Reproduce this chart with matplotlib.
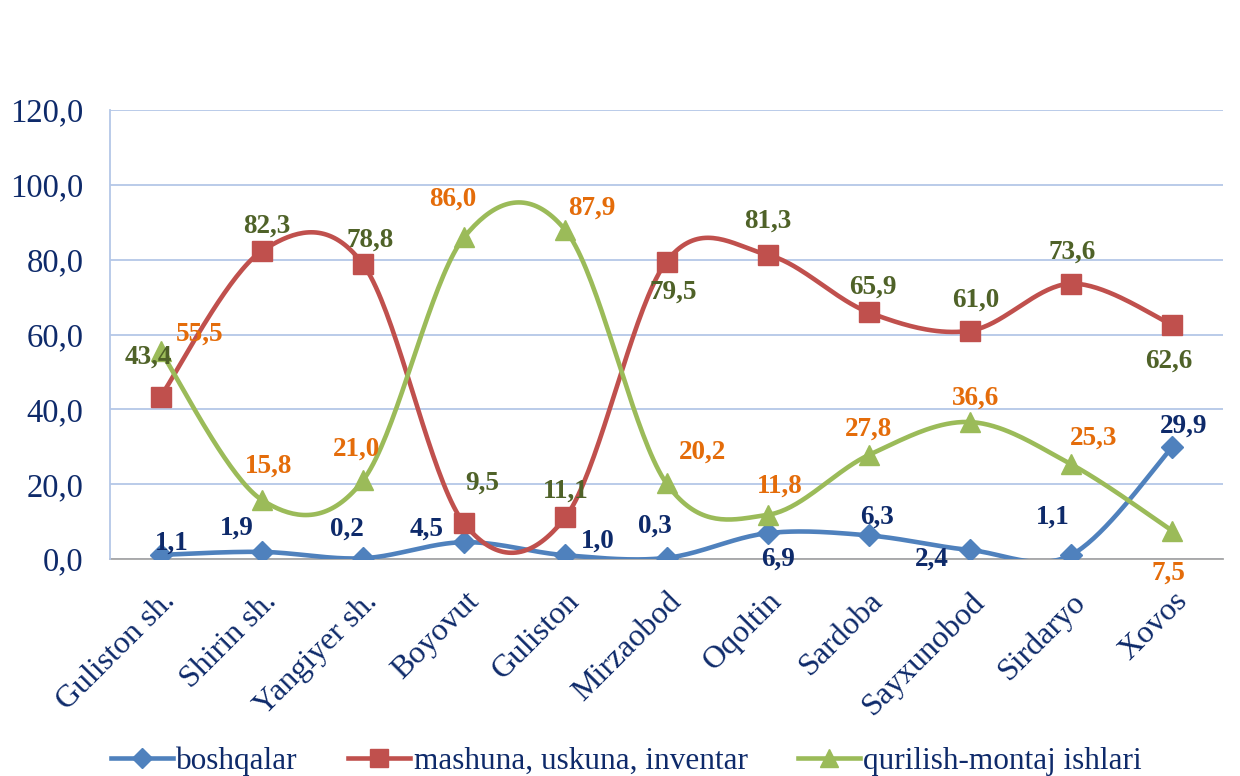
import numpy as np
import matplotlib
matplotlib.use("Agg")
import matplotlib.pyplot as plt
from matplotlib.lines import Line2D

plt.rcParams['font.family'] = ['Liberation Serif', 'DejaVu Serif']

districts = ['Guliston sh.', 'Shirin sh.', 'Yangiyer sh.', 'Boyovut', 'Guliston',
             'Mirzaobod', 'Oqoltin', 'Sardoba', 'Sayxunobod', 'Sirdaryo', 'Xovos']
boshqalar = [1.1, 1.9, 0.2, 4.5, 1.0, 0.3, 6.9, 6.3, 2.4, 1.1, 29.9]
mashuna = [43.4, 82.3, 78.8, 9.5, 11.1, 79.5, 81.3, 65.9, 61.0, 73.6, 62.6]
qurilish = [55.5, 15.8, 21.0, 86.0, 87.9, 20.2, 11.8, 27.8, 36.6, 25.3, 7.5]
y_ticks = [0, 20, 40, 60, 80, 100, 120]
y_ticklabels = ['0,0', '20,0', '40,0', '60,0', '80,0', '100,0', '120,0']

# label offsets in pixels (dx, dy) - dy positive = up
off_b = [(11, 12), (-25, 24), (-16, 29), (-38, 13), (32, 14), (-12, 32),
         (10, -26), (8, 18), (-38, -9), (-18, 38), (11, 21)]
off_m = [(-12, 39), (5, 25), (7, 24), (18, 40), (0, 26), (7, -31),
         (0, 34), (4, 25), (6, 31), (1, 31), (-4, -36)]
off_q = [(39, 17), (7, 34), (-6, 31), (-11, 38), (26, 22), (36, 31),
         (12, 29), (0, 26), (6, 24), (22, 26), (-4, -42)]

NAVY = '#0E2A6A'


def smooth(xs, ys, n=40):
    # Catmull-Rom style bezier smoothing (like Excel smoothed lines)
    p = np.column_stack([xs, ys]).astype(float)
    pts = np.vstack([p[0], p, p[-1]])
    out = []
    t = np.linspace(0, 1, n)[:, None]
    for i in range(1, len(pts) - 2):
        p0, p3 = pts[i], pts[i + 1]
        p1 = p0 + (pts[i + 1] - pts[i - 1]) / 6
        p2 = p3 - (pts[i + 2] - pts[i]) / 6
        seg = ((1 - t) ** 3) * p0 + 3 * ((1 - t) ** 2) * t * p1 + 3 * (1 - t) * t ** 2 * p2 + t ** 3 * p3
        out.append(seg)
    c = np.vstack(out)
    return c[:, 0], c[:, 1]


fig = plt.figure(figsize=(12.4, 7.76), dpi=100)
ax = fig.add_axes([110 / 1240, 1 - 559 / 776, 1113 / 1240, 449 / 776])

x = np.arange(len(districts))
series = [
    (boshqalar, '#4F81BD', 'D', 11, 'boshqalar', NAVY, off_b),
    (mashuna, '#C0504D', 's', 14, 'mashuna, uskuna, inventar', '#4F6228', off_m),
    (qurilish, '#9BBB59', '^', 15, 'qurilish-montaj ishlari', '#E46C0A', off_q),
]
handles = []
for vals, col, mk, ms, name, lcol, offs in series:
    sx, sy = smooth(x, vals)
    ax.plot(sx, sy, color=col, lw=3.3, zorder=3, solid_capstyle='round')
    ax.plot(x, vals, ls='none', marker=mk, ms=ms, color=col, zorder=4)
    for xi, v, (dx, dy) in zip(x, vals, offs):
        ax.annotate(('%.1f' % v).replace('.', ','), (xi, v), xytext=(dx, dy),
                    textcoords='offset pixels', ha='center', va='center',
                    fontsize=19.5, fontweight='bold', color=lcol, zorder=5)
    handles.append(Line2D([], [], color=col, lw=3.3, marker=mk, ms=ms * 0.9, label=name))

ax.set_xlim(-0.5, len(districts) - 0.5)
ax.set_ylim(0, 120)
ax.set_yticks(y_ticks)
ax.set_yticklabels(y_ticklabels, fontsize=23.5, color=NAVY)
ax.set_xticks(x)
ax.set_xticklabels(districts, rotation=45, ha='right', va='top',
                   rotation_mode='anchor', fontsize=23, color=NAVY)
ax.tick_params(axis='both', length=0)
ax.tick_params(axis='y', pad=19)
ax.tick_params(axis='x', pad=20)
ax.grid(axis='y', color='#B4C7E7', lw=1.3)
ax.set_axisbelow(True)
for s in ['top', 'right']:
    ax.spines[s].set_visible(False)
ax.spines['left'].set_color('#B4C7E7')
ax.spines['left'].set_linewidth(1.3)
ax.spines['bottom'].set_color('#A6A6A6')
ax.spines['bottom'].set_linewidth(1.3)
ax.spines['bottom'].set_zorder(2)

fig.legend(handles=handles, loc='lower center', bbox_to_anchor=(0.505, -0.036),
           ncol=3, frameon=False, fontsize=22.5, labelcolor=NAVY,
           handlelength=2.0, handletextpad=0.1, columnspacing=1.6)

fig.savefig('out.png', dpi=100)
